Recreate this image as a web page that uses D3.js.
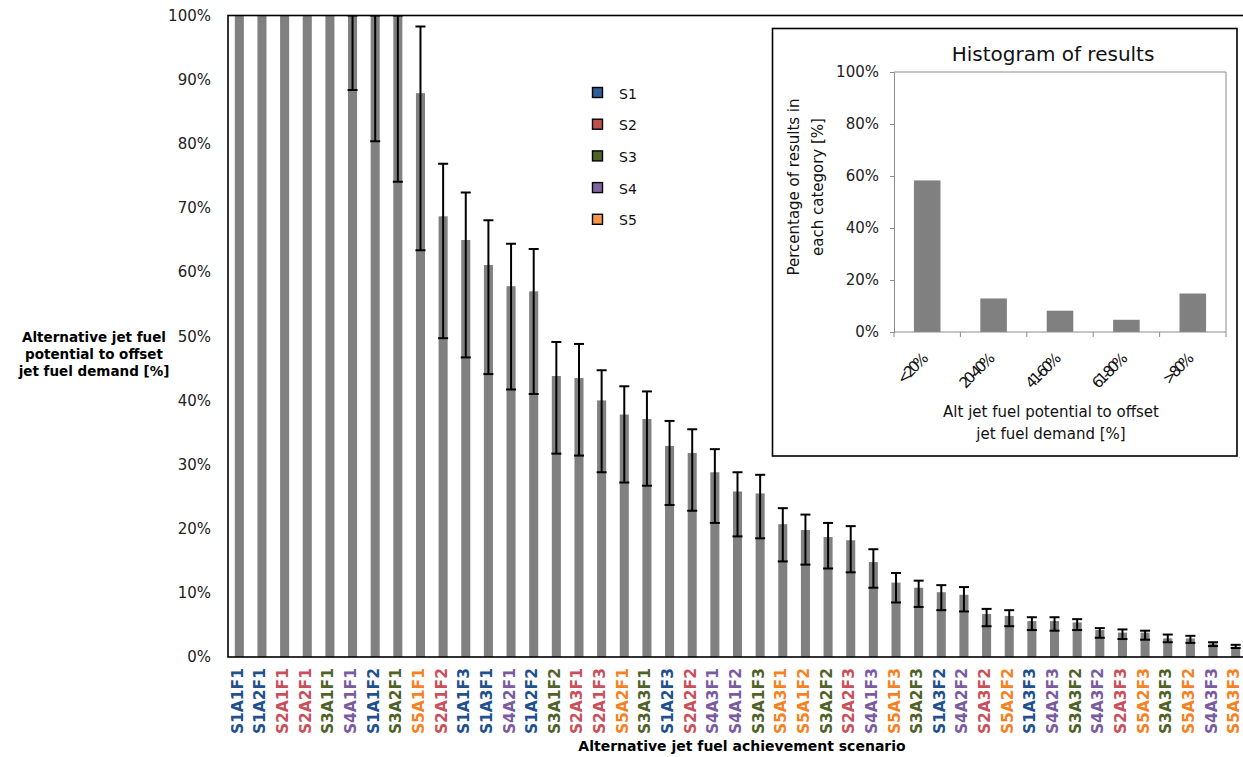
<!DOCTYPE html>
<html>
<head>
<meta charset="utf-8">
<script src="https://cdn.jsdelivr.net/npm/d3@7"></script>
<style>
  html, body { margin: 0; padding: 0; background: #fff; }
  svg { display: block; font-family: "DejaVu Sans", Verdana, sans-serif; }
</style>
</head>
<body>
<svg id="chart" width="1243" height="757"></svg>
<script>
// Scenario ranking: mean potential (%) with low / high range
const scenarios = ["S1A1F1","S1A2F1","S2A1F1","S2A2F1","S3A1F1","S4A1F1","S1A1F2","S3A2F1","S5A1F1",
  "S2A1F2","S1A1F3","S1A3F1","S4A2F1","S1A2F2","S3A1F2","S2A3F1","S2A1F3","S5A2F1","S3A3F1",
  "S1A2F3","S2A2F2","S4A3F1","S4A1F2","S3A1F3","S5A3F1","S5A1F2","S3A2F2","S2A2F3","S4A1F3",
  "S5A1F3","S3A2F3","S1A3F2","S4A2F2","S2A3F2","S5A2F2","S1A3F3","S4A2F3","S3A3F2","S4A3F2",
  "S2A3F3","S5A2F3","S3A3F3","S5A3F2","S4A3F3","S5A3F3"];
const meanValues = [100,100,100,100,100,100,100,100,87.9,
  68.7,65.0,61.1,57.8,57.0,43.8,43.5,40.0,37.8,37.1,
  32.9,31.8,28.8,25.8,25.5,20.7,19.8,18.7,18.2,14.8,
  11.6,10.8,10.1,9.7,6.7,6.4,5.6,5.6,5.4,4.2,
  3.8,3.8,2.9,2.9,2.1,1.6];
const lowValues = [100,100,100,100,100,88.4,80.4,74.1,63.4,
  49.7,46.7,44.1,41.7,41.0,31.7,31.4,28.8,27.2,26.7,
  23.7,22.8,20.9,18.8,18.5,14.9,14.4,13.8,13.2,10.8,
  8.5,7.8,7.3,7.1,4.8,4.8,4.2,4.1,4.2,3.0,
  2.8,2.7,2.3,2.2,1.7,1.4];
const highValues = [100,100,100,100,100,100,100,100,98.3,
  76.9,72.4,68.1,64.4,63.6,49.1,48.8,44.7,42.2,41.4,
  36.8,35.5,32.4,28.8,28.4,23.2,22.2,20.9,20.4,16.8,
  13.1,11.9,11.2,10.9,7.5,7.3,6.2,6.2,5.9,4.5,
  4.3,4.1,3.5,3.3,2.3,1.9];
const yTicks = [0,10,20,30,40,50,60,70,80,90,100];

// Legend groups
const groups = ["S1","S2","S3","S4","S5"];
const swatchColors = ["#2f5e98","#c0504d","#4f6228","#8064a2","#f79646"];
const labelColors  = ["#22508c","#c9505a","#4f6228","#7a5ba0","#f5821f"];

// Histogram of results (inset)
const histBins = ["<20%","20-40%","41-60%","61-80%",">80%"];
const histValues = [58.3, 12.9, 8.2, 4.7, 14.8];
const histTicks = [0,20,40,60,80,100];

const svg = d3.select("#chart");

// ---------- main chart ----------
const plot = { left: 228, top: 15.5, bottom: 657, right: 1247 };
const x = d3.scaleBand().domain(scenarios).range([plot.left, plot.right])
  .paddingInner(0.6).paddingOuter(0.3);
const y = d3.scaleLinear().domain([0, 100]).range([plot.bottom, plot.top]);

svg.append("clipPath").attr("id", "plotClip")
  .append("rect").attr("x", plot.left).attr("y", plot.top)
  .attr("width", plot.right - plot.left).attr("height", plot.bottom - plot.top);

const data = scenarios.map((s, i) => ({ s, v: meanValues[i], lo: lowValues[i], hi: highValues[i] }));

const g = svg.append("g").attr("clip-path", "url(#plotClip)");
g.selectAll("rect.bar").data(data).join("rect")
  .attr("class", "bar")
  .attr("x", d => x(d.s)).attr("width", x.bandwidth())
  .attr("y", d => y(d.v)).attr("height", d => y(0) - y(d.v))
  .attr("fill", "#808080");

const eb = g.selectAll("g.err").data(data.filter(d => d.hi !== d.lo)).join("g").attr("class", "err")
  .attr("stroke", "#000").attr("stroke-width", 2);
const cx = d => x(d.s) + x.bandwidth() / 2;
eb.append("line").attr("x1", cx).attr("x2", cx).attr("y1", d => y(d.lo)).attr("y2", d => y(d.hi));
eb.append("line").attr("x1", d => cx(d) - 5).attr("x2", d => cx(d) + 5).attr("y1", d => y(d.lo)).attr("y2", d => y(d.lo));
eb.append("line").attr("x1", d => cx(d) - 5).attr("x2", d => cx(d) + 5).attr("y1", d => y(d.hi)).attr("y2", d => y(d.hi));

// plot frame
svg.append("rect").attr("x", plot.left).attr("y", plot.top)
  .attr("width", plot.right - plot.left).attr("height", plot.bottom - plot.top)
  .attr("fill", "none").attr("stroke", "#000").attr("stroke-width", 1.6);

// y axis
const yAxis = svg.append("g").attr("transform", `translate(${plot.left},0)`)
  .call(d3.axisLeft(y).tickValues(yTicks).tickSize(0).tickPadding(17).tickFormat(d => d + "%"));
yAxis.select(".domain").remove();
yAxis.selectAll("text").attr("font-size", 15).attr("fill", "#222")
  .attr("font-family", "DejaVu Sans, Verdana, sans-serif");

// x axis labels, coloured by scenario group
const xAxis = svg.append("g").attr("transform", `translate(0,${plot.bottom})`)
  .call(d3.axisBottom(x).tickSize(0).tickPadding(0));
xAxis.select(".domain").remove();
xAxis.selectAll("text")
  .attr("font-size", 15.5).attr("font-weight", "bold")
  .attr("font-family", "DejaVu Sans, Verdana, sans-serif")
  .attr("text-anchor", "end").attr("dy", null)
  .attr("transform", "translate(3.5,11) rotate(-90)")
  .attr("fill", d => labelColors[groups.indexOf(d.slice(0, 2))]);

// axis titles
svg.append("text").attr("x", 742).attr("y", 751).attr("text-anchor", "middle")
  .attr("font-size", 14).attr("font-weight", "bold").attr("fill", "#000")
  .text("Alternative jet fuel achievement scenario");
const yTitle = svg.append("text").attr("text-anchor", "middle")
  .attr("font-size", 13.5).attr("font-weight", "bold").attr("fill", "#000");
["Alternative jet fuel", "potential to offset", "jet fuel demand [%]"].forEach((t, i) => {
  yTitle.append("tspan").attr("x", 94).attr("y", 342 + i * 17).text(t);
});

// legend
const legend = svg.append("g").attr("transform", "translate(592,93)");
groups.forEach((grp, i) => {
  const row = legend.append("g").attr("transform", `translate(0,${i * 31.7})`);
  row.append("rect").attr("x", 0.5).attr("y", -5.5).attr("width", 10).attr("height", 10)
    .attr("fill", swatchColors[i]).attr("stroke", "#000").attr("stroke-width", 1.4);
  row.append("text").attr("x", 27).attr("y", 5.5).attr("font-size", 14).attr("fill", "#111").text(grp);
});

// ---------- inset histogram ----------
const inset = svg.append("g");
inset.append("rect").attr("x", 772.5).attr("y", 28.5).attr("width", 464.5).attr("height", 427.5)
  .attr("fill", "#fff").attr("stroke", "#000").attr("stroke-width", 1.6);

const ip = { left: 894, right: 1226, top: 72, bottom: 332 };
const hx = d3.scaleBand().domain(histBins).range([ip.left, ip.right]).paddingInner(0.6).paddingOuter(0.3);
const hy = d3.scaleLinear().domain([0, 100]).range([ip.bottom, ip.top]);

inset.append("path")
  .attr("d", `M${ip.left},${ip.top}H${ip.right}V${ip.bottom}`)
  .attr("fill", "none").attr("stroke", "#8c8c8c").attr("stroke-width", 1);

inset.selectAll("rect.hbar").data(histBins).join("rect").attr("class", "hbar")
  .attr("x", d => hx(d)).attr("width", hx.bandwidth())
  .attr("y", (d, i) => hy(histValues[i])).attr("height", (d, i) => ip.bottom - hy(histValues[i]))
  .attr("fill", "#808080");

const hyAxis = inset.append("g").attr("transform", `translate(${ip.left},0)`)
  .call(d3.axisLeft(hy).tickValues(histTicks).tickSize(4).tickPadding(11).tickFormat(d => d + "%"));
hyAxis.select(".domain").attr("stroke", "#8c8c8c");
hyAxis.selectAll(".tick line").attr("stroke", "#8c8c8c");
hyAxis.selectAll("text").attr("font-size", 15).attr("fill", "#222")
  .attr("font-family", "DejaVu Sans, Verdana, sans-serif");

// category boundaries as tick marks below the axis
const bounds = histBins.map(b => hx(b) - hx.step() * 0.3).concat([ip.right]);
inset.append("line").attr("x1", ip.left).attr("x2", ip.right).attr("y1", ip.bottom).attr("y2", ip.bottom)
  .attr("stroke", "#8c8c8c");
inset.selectAll("line.bt").data(bounds).join("line").attr("class", "bt")
  .attr("x1", d => d).attr("x2", d => d).attr("y1", ip.bottom).attr("y2", ip.bottom + 5)
  .attr("stroke", "#8c8c8c");

inset.selectAll("text.hl").data(histBins).join("text").attr("class", "hl")
  .attr("transform", d => `translate(${hx(d) + hx.bandwidth() / 2},${ip.bottom + 29}) rotate(-45)`)
  .attr("text-anchor", "end").attr("font-size", 15).attr("letter-spacing", -3)
  .attr("fill", "#111").text(d => d);

inset.append("text").attr("x", 1053).attr("y", 61).attr("text-anchor", "middle")
  .attr("font-size", 20).attr("fill", "#111").text("Histogram of results");

const hxt = inset.append("text").attr("text-anchor", "middle").attr("font-size", 15).attr("fill", "#111");
["Alt jet fuel potential to offset", "jet fuel demand [%]"].forEach((t, i) => {
  hxt.append("tspan").attr("x", 1051).attr("y", 417 + i * 22).text(t);
});
const hyt = inset.append("text").attr("text-anchor", "middle").attr("font-size", 15).attr("fill", "#111")
  .attr("transform", "translate(799,187) rotate(-90)");
["Percentage of results in", "each category [%]"].forEach((t, i) => {
  hyt.append("tspan").attr("x", 0).attr("y", i * 24).text(t);
});
</script>
</body>
</html>
